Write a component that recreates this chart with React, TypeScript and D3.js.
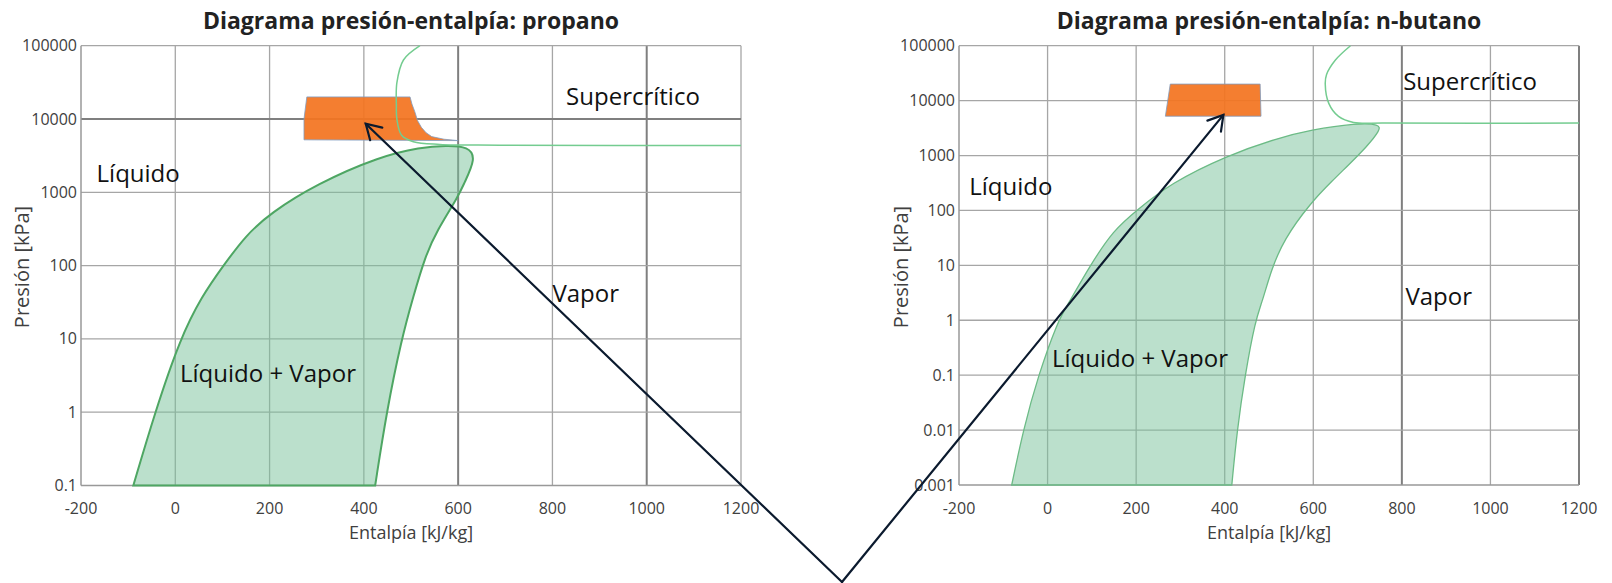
import * as d3 from "d3";

// ---- data ----
const X_TICKS = [-200, 0, 200, 400, 600, 800, 1000, 1200];
const Y_TICKS_PROPANO = [0.1, 1, 10, 100, 1000, 10000, 100000];
const Y_TICKS_BUTANO = [0.001, 0.01, 0.1, 1, 10, 100, 1000, 10000, 100000];

// saturation dome [h kJ/kg, p kPa], from bottom-left around to bottom-right
const DOME_PROPANO = [
  [-89, 0.1], [-43, 1], [10, 10], [56, 38], [102, 100], [150, 260], [202, 520], [300, 1300],
  [434, 3080], [520, 4100], [575, 4350], [622, 4200], [638, 2900], [612, 1300], [600, 870],
  [555, 300], [530, 133], [505, 38], [480, 10], [448, 1], [424, 0.1],
];
const DOME_BUTANO = [
  [-81, 0.001], [-55, 0.01], [-21, 0.1], [24, 1], [43, 1.77], [96, 10], [149, 44],
  [201, 100], [277, 310], [405, 1000], [518, 2050], [593, 2920], [699, 3900],
  [750, 3700], [751, 2900], [721, 1450], [676, 630], [645, 360], [593, 135],
  [533, 29], [505, 8.2], [485, 2.2], [469, 1], [446, 0.1], [428, 0.01], [416, 0.001],
];

// critical isobar
const ISOBAR_PROPANO = [
  [519, 100000], [484, 63800], [470, 31000], [469, 15000], [470, 10000], [480, 6000],
  [505, 4900], [561, 4500], [689, 4400], [1200, 4350],
];
const ISOBAR_BUTANO = [
  [684, 100000], [650, 55000], [630, 30000], [627, 20000], [635, 8900], [657, 5150],
  [691, 4000], [760, 3900], [1200, 3900],
];

// operating region (orange)
const REGION_PROPANO = [
  [279, 20000], [498, 20000], [502, 16000], [508, 12600], [514, 9500], [522, 7700],
  [532, 6500], [544, 5750], [570, 5300], [600, 5070], [273, 5200], [273, 10000],
];
const REGION_BUTANO = [[277, 20000], [480, 20000], [482, 5200], [266, 5200]];

// region labels [text, h, p]
const LABELS_PROPANO = [
  ["Líquido", -167, 1390], ["Líquido + Vapor", 10, 2.58],
  ["Vapor", 800, 31.8], ["Supercrítico", 829, 15500],
];
const LABELS_BUTANO = [
  ["Líquido", -177, 191], ["Líquido + Vapor", 10, 0.141],
  ["Vapor", 808, 1.9], ["Supercrítico", 803, 15600],
];

// arrow tips [h, p]
const ARROW_TIP_PROPANO = [404, 8600];
const ARROW_TIP_BUTANO = [397, 5500];

// ---- layout ----
const W = 1612;
const H = 583;
const FONT = "'Open Sans', 'Noto Sans', sans-serif";
const LEFT = { left: 81, right: 741, top: 45.7, bottom: 485.5, yTitleX: 21 };
const RIGHT = { left: 959, right: 1579, top: 45.7, bottom: 485, yTitleX: 900 };
const ARROW_BASE = [842, 582];

function makeScales(f, yTicks) {
  const x = d3.scaleLinear().domain([-200, 1200]).range([f.left, f.right]);
  const y = d3.scaleLog().domain([yTicks[0], yTicks[yTicks.length - 1]]).range([f.bottom, f.top]);
  return { x, y };
}

const fmt = (v) => (v < 1 ? String(v) : d3.format("d")(v));

function Chart(props) {
  const { f, title, yTicks, dome, isobar, region, labels, darkX, darkY, domeStroke, domeWidth } = props;
  const { x, y } = makeScales(f, yTicks);
  const domeLine = d3.line().x((d) => x(d[0])).y((d) => y(d[1])).curve(d3.curveBasis);
  const smooth = d3.line().x((d) => x(d[0])).y((d) => y(d[1])).curve(d3.curveCatmullRom.alpha(0.5));
  const straight = d3.line().x((d) => x(d[0])).y((d) => y(d[1]));
  const cx = (f.left + f.right) / 2;

  return (
    <g>
      {X_TICKS.slice(1).map((t) => (
        <line key={"gx" + t} x1={x(t)} x2={x(t)} y1={f.top} y2={f.bottom}
          stroke={darkX.includes(t) ? "#7f7f7f" : "#a6a6a6"} strokeWidth={darkX.includes(t) ? 2 : 1.3} />
      ))}
      {yTicks.slice(1).map((t) => (
        <line key={"gy" + t} x1={f.left} x2={f.right} y1={y(t)} y2={y(t)}
          stroke={darkY.includes(t) ? "#7f7f7f" : "#a6a6a6"} strokeWidth={darkY.includes(t) ? 2 : 1.3} />
      ))}
      <line x1={f.left} x2={f.left} y1={f.top} y2={f.bottom} stroke="#999" strokeWidth={1.5} />
      <line x1={f.left} x2={f.right} y1={f.bottom} y2={f.bottom} stroke="#999" strokeWidth={1.5} />

      <path d={straight(region) + "Z"} fill="#f37420" fillOpacity={0.93} stroke="#7f9cc0" strokeWidth={0.8} />
      <path d={domeLine(dome) + "Z"} fill="rgb(119,193,153)" fillOpacity={0.5}
        stroke={domeStroke} strokeWidth={domeWidth} />
      <path d={smooth(isobar)} fill="none" stroke="#74cc90" strokeWidth={1.5} />

      {yTicks.map((t) => (
        <text key={"ty" + t} x={f.left - 4} y={y(t) + 5.5} textAnchor="end"
          fontFamily={FONT} fontSize={16} fill="#404040">{fmt(t)}</text>
      ))}
      {X_TICKS.map((t) => (
        <text key={"tx" + t} x={x(t)} y={f.bottom + 28.5} textAnchor="middle"
          fontFamily={FONT} fontSize={16} fill="#404040">{t}</text>
      ))}
      {labels.map(([s, h, p]) => (
        <text key={s} x={x(h)} y={y(p)} fontFamily={FONT} fontSize={24} fill="#111">{s}</text>
      ))}

      <text x={cx} y={29} textAnchor="middle" fontFamily={FONT} fontWeight="bold"
        fontSize={23} fill="#222">{title}</text>
      <text x={cx} y={539} textAnchor="middle" fontFamily={FONT} fontSize={18} fill="#404040">
        Entalpía [kJ/kg]
      </text>
      <text transform={`translate(${f.yTitleX},267) rotate(-90)`} textAnchor="middle"
        dominantBaseline="central" fontFamily={FONT} fontSize={20} fill="#404040">
        Presión [kPa]
      </text>
    </g>
  );
}

function Arrow({ tip }) {
  const [bx, by] = ARROW_BASE;
  const [tx, ty] = tip;
  const a = Math.atan2(by - ty, bx - tx);
  const len = 17;
  const spread = (31 * Math.PI) / 180;
  const p1 = [tx + len * Math.cos(a - spread), ty + len * Math.sin(a - spread)];
  const p2 = [tx + len * Math.cos(a + spread), ty + len * Math.sin(a + spread)];
  return (
    <g stroke="#0b1a2e" strokeWidth={2.2} fill="none" strokeLinecap="round">
      <line x1={bx} y1={by} x2={tx} y2={ty} />
      <polyline points={`${p1[0]},${p1[1]} ${tx},${ty} ${p2[0]},${p2[1]}`} />
    </g>
  );
}

export default function App() {
  const sl = makeScales(LEFT, Y_TICKS_PROPANO);
  const sr = makeScales(RIGHT, Y_TICKS_BUTANO);
  const tipL = [sl.x(ARROW_TIP_PROPANO[0]), sl.y(ARROW_TIP_PROPANO[1])];
  const tipR = [sr.x(ARROW_TIP_BUTANO[0]), sr.y(ARROW_TIP_BUTANO[1])];

  return (
    <svg width={W} height={H} viewBox={`0 0 ${W} ${H}`}
      style={{ position: "absolute", left: 0, top: 0, background: "#fff" }}>
      <rect width={W} height={H} fill="#fff" />
      <Chart f={LEFT} title="Diagrama presión-entalpía: propano" yTicks={Y_TICKS_PROPANO}
        dome={DOME_PROPANO} isobar={ISOBAR_PROPANO} region={REGION_PROPANO} labels={LABELS_PROPANO}
        darkX={[600, 1000]} darkY={[10000]} domeStroke="#4ea663" domeWidth={2} />
      <Chart f={RIGHT} title="Diagrama presión-entalpía: n-butano" yTicks={Y_TICKS_BUTANO}
        dome={DOME_BUTANO} isobar={ISOBAR_BUTANO} region={REGION_BUTANO} labels={LABELS_BUTANO}
        darkX={[800, 1200]} darkY={[]} domeStroke="#6cbb86" domeWidth={1.3} />
      <Arrow tip={tipL} />
      <Arrow tip={tipR} />
    </svg>
  );
}
